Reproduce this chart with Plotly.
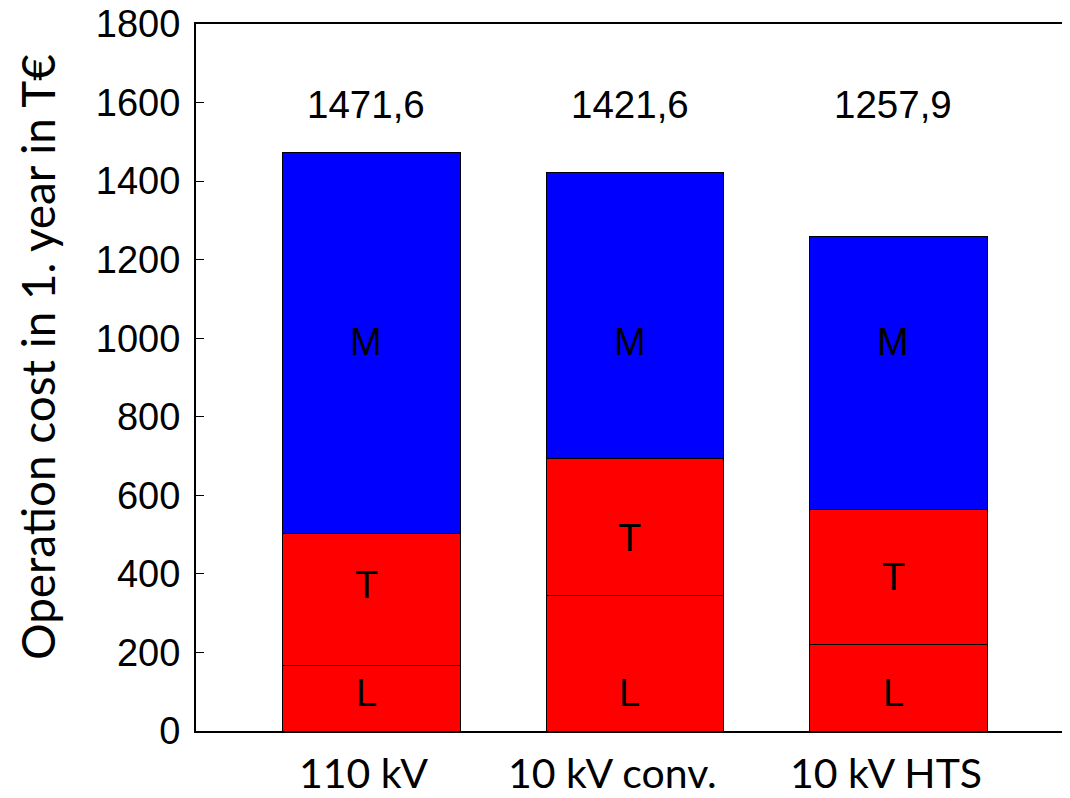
import plotly.graph_objects as go

categories = ["110 kV", "10 kV conv.", "10 kV HTS"]
L_values = [166, 344, 219]
T_values = [336, 349, 346]
M_values = [969.6, 728.6, 692.9]
totals = [1471.6, 1421.6, 1257.9]
total_labels = ["1471,6", "1421,6", "1257,9"]
L_label_y = [97, 97, 97]
T_label_y = [372, 491, 392]
M_label_y = [990, 990, 990]
y_title = "Operation cost in 1. year in T€"
cat_label_shift = [-8, -22, -12]

xs = list(range(len(categories)))

fig = go.Figure()
for name, vals, col in [("L", L_values, "#FF0000"), ("T", T_values, "#FF0000"), ("M", M_values, "#0000FF")]:
    fig.add_trace(go.Bar(x=xs, y=vals, name=name, marker=dict(color=col, line=dict(color="black", width=1)),
                         width=0.672, showlegend=False))

# invisible trace for right-side ticks
fig.add_trace(go.Scatter(x=[xs[0]], y=[0], yaxis="y2", mode="markers", marker=dict(opacity=0), showlegend=False, hoverinfo="skip"))

ann = []
for i in xs:
    for lab, ys in [("L", L_label_y), ("T", T_label_y), ("M", M_label_y)]:
        ann.append(dict(x=i, y=ys[i], text=lab, showarrow=False, xref="x", yref="y", xshift=-5,
                        font=dict(family="Liberation Sans, Arial", size=38, color="black"), yanchor="middle"))
    ann.append(dict(x=i, y=1594, text=total_labels[i], showarrow=False, xref="x", yref="y", xshift=-5,
                    font=dict(family="Liberation Sans, Arial", size=38.5, color="black"), yanchor="middle"))
    ann.append(dict(x=i, y=0, text=categories[i], showarrow=False, xref="x", yref="paper",
                    xshift=cat_label_shift[i], yshift=-41, yanchor="middle",
                    font=dict(family="Lato", size=41, color="black")))

ann.append(dict(x=0, y=0.529, xref="paper", yref="paper", text=y_title, textangle=-90, showarrow=False,
                xanchor="center", yanchor="middle", xshift=-158,
                font=dict(family="Lato", size=45.8, color="black")))

fig.update_layout(
    barmode="stack",
    width=1062, height=790,
    margin=dict(l=188, r=0, t=16, b=67, autoexpand=False),
    plot_bgcolor="white", paper_bgcolor="white",
    annotations=ann,
    xaxis=dict(range=[-0.666, 2.651], tickvals=xs, showticklabels=False, showline=True, mirror=True,
               linecolor="black", linewidth=2, ticks="", showgrid=False, zeroline=False),
    yaxis=dict(range=[0, 1800], dtick=200, ticks="inside", ticklen=8, tickwidth=1, tickcolor="black",
               showline=True, linecolor="black", linewidth=2, showgrid=False, zeroline=False,
               ticklabelstandoff=6, ticklabeloverflow="allow",
               tickfont=dict(family="Liberation Sans, Arial", size=38, color="black")),
    yaxis2=dict(range=[0, 1800], dtick=200, overlaying="y", side="right", anchor="x", ticks="inside", ticklen=8,
                tickcolor="black", tickwidth=1, showline=False, showticklabels=False, showgrid=False, zeroline=False),
)

fig.write_html("out.html")
